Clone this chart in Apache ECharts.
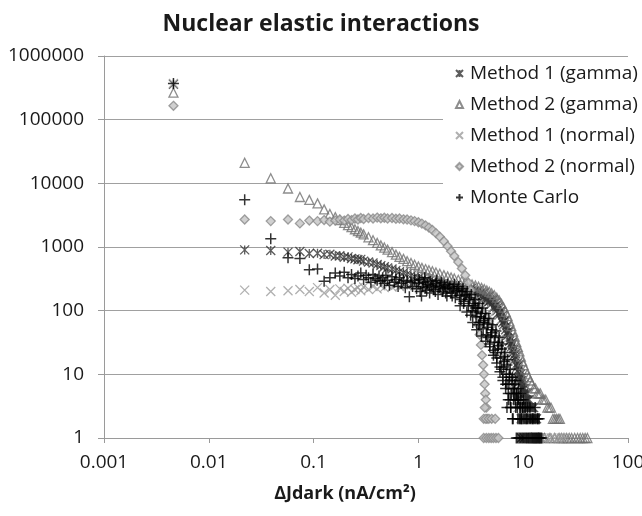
<!DOCTYPE html>
<html>
<head>
<meta charset="utf-8">
<script src="https://cdn.jsdelivr.net/npm/echarts@6/dist/echarts.min.js"></script>
<style>
html,body{margin:0;padding:0;background:#fff;}
#chart{width:642px;height:516px;}
</style>
</head>
<body>
<div id="chart"></div>
<script>
const chartTitle = 'Nuclear elastic interactions';
const xAxisTitle = 'ΔJdark (nA/cm²)';
const yAxisTitle = 'Frequency';
const xTickLabels = ['0.001','0.01','0.1','1','10','100'];
const yTickLabels = ['1','10','100','1000','10000','100000','1000000'];
const seriesNames = ['Method 1 (gamma)','Method 2 (gamma)','Method 1 (normal)','Method 2 (normal)','Monte Carlo'];

const method1Gamma = [
[0.0046,360000],
[0.022,900],[0.039,880],[0.057,830],[0.074,850],[0.091,790],[0.109,800],[0.126,760],[0.143,770],[0.161,720],[0.178,730],[0.196,690],[0.213,700],[0.230,660],[0.248,650],[0.265,630],[0.282,640],[0.300,600],[0.334,580],[0.369,560],[0.404,530],[0.438,510],[0.473,490],[0.508,470],[0.56,450],[0.61,430],[0.66,410],[0.72,395],[0.78,375],[0.85,355],[0.92,340],[1.0,325],[1.08,310],[1.17,300],[1.26,290],[1.36,282],[1.47,275],[1.6,265],[1.75,255],[1.9,248],[2.05,240],[2.2,232],[2.4,225],[2.6,218],[2.8,210],[3.0,205],[3.25,195],[3.5,188],[3.75,178],[4.0,170],[4.25,160],[4.5,150],[4.75,140],[5.0,128],[5.3,115],[5.6,100],[5.9,86],[6.2,72],[6.5,60],[6.8,50],[7.1,41],[7.4,33],[7.7,27],[8.0,22],[8.3,17],[8.6,14],[8.9,11],[9.2,9],[9.5,7],[9.8,6],[10.1,5],[10.5,4],[10.9,3],[11.3,3],[11.7,2],[12.1,2],[12.6,2],[13.1,1],[13.6,1],[14.1,1],[14.6,1],[9.6,1],[10.3,1],[11.0,1],[11.8,1],[12.4,1],
[3.1,215],[3.4,200],[3.6,170],[3.9,185],[4.1,150],[4.4,165],[4.6,135],[4.9,145],[5.15,110],[5.45,120],[5.75,90],[6.05,95],[6.35,65],[6.65,70],[6.95,45],[7.25,48],[7.55,30],[7.85,32],[8.15,20],[8.45,21],[8.75,13],[9.05,14],[9.35,8],[9.65,9],[10.0,6],[10.3,6],[10.7,4],[11.1,4],[11.5,3],[12.3,3],[12.9,2],[13.4,2],
[5.2,150],[5.5,135],[5.8,115],[6.1,100],[6.4,85],[6.7,70],[7.0,58],[7.3,46],[7.6,38],[7.9,30],[8.2,25],[8.5,19],[8.8,15],[9.1,12],[9.4,10],[9.7,8],[10.2,7],[10.6,5],[11.0,5],[11.4,4],[11.9,3],[12.6,3],[2.3,250],[2.7,235],[3.2,225],[3.7,205],[4.2,190],[4.7,170]
];

const method2Gamma = [
[0.0046,265000],
[0.022,21000],[0.039,12000],[0.057,8300],[0.074,6100],[0.091,5500],[0.109,4850],[0.126,3900],[0.143,3300],[0.161,2950],[0.178,2650],[0.196,2400],[0.213,2200],[0.230,2050],[0.248,1900],[0.265,1780],[0.282,1680],[0.300,1580],[0.334,1420],[0.369,1280],[0.404,1160],[0.438,1060],[0.473,980],[0.508,910],[0.56,830],[0.61,760],[0.66,700],[0.72,650],[0.78,600],[0.85,560],[0.92,525],[1.0,495],[1.08,470],[1.17,450],[1.26,432],[1.36,415],[1.47,398],[1.6,380],[1.75,362],[1.9,346],[2.05,332],[2.2,320],[2.4,305],[2.6,292],[2.8,280],[3.0,270],[3.25,258],[3.5,248],[3.75,238],[4.0,228],[4.25,218],[4.5,208],[4.75,198],[5.0,188],[5.3,175],[5.6,160],[5.9,145],[6.2,128],[6.5,112],[6.8,96],[7.1,82],[7.4,68],[7.7,57],[8.0,47],[8.3,39],[8.6,32],[8.9,27],[9.2,23],[9.5,19],[9.8,16],[10.1,14],[10.5,12],[10.9,10],[11.3,9],[11.7,8],[12.1,7],[12.6,6],[13.1,6],[13.6,5],[14.1,5],[14.6,5],[15.2,4],[15.8,4],[16.4,4],[17.0,3],[17.7,3],[18.4,3],[19.2,2],[20.0,2],[20.8,2],[21.6,2],[22.4,2],[23.2,1],[24.5,1],[26.0,1],[27.5,1],[29.0,1],[31.0,1],[33.0,1],[35.0,1],[37.0,1],[39.0,1],[41.0,1],[16.0,1],[18.0,1],[20.0,1],[22.0,1],[12.0,1],[14.0,1]
];

const method1Normal = [
[0.0046,370000],
[0.022,210],[0.039,200],[0.057,205],[0.074,215],[0.091,200],[0.109,230],[0.126,190],[0.143,215],[0.161,175],[0.178,220],[0.196,200],[0.213,225],[0.230,195],[0.248,215],[0.265,230],[0.282,205],[0.300,235],[0.334,215],[0.369,240],[0.404,220],[0.438,245],[0.473,230],[0.508,250],[0.56,235],[0.61,255],[0.66,240],[0.72,255],[0.78,245],[0.85,258],[0.92,248],[1.0,255],[1.08,250],[1.17,252],[1.26,246],[1.36,248],[1.47,240],[1.6,238],[1.75,230],[1.9,225],[2.05,218],[2.2,210],[2.4,200],[2.6,190],[2.8,180],[3.0,170],[3.25,155],[3.5,142],[3.75,128],[4.0,115],[4.25,102],[4.5,90],[4.75,78],[5.0,67],[5.3,56],[5.6,45],[5.9,36],[6.2,29],[6.5,23],[6.8,18],[7.1,14],[7.4,11],[7.7,8],[8.0,6],[8.3,5],[8.6,4],[8.9,3],[9.2,3],[9.5,2],[9.8,2],[10.2,2],[10.6,1],[11.0,1],[11.5,1],[12.0,1],[12.5,1],[13.0,1],[13.5,1],[14.0,1],[15.0,1],[16.0,1],[17.0,1],[18.5,1],[20.0,1],[21.5,1],[23.0,1],[25.0,1]
];

const method2Normal = [
[0.0046,165000],
[0.022,2700],[0.039,2550],[0.057,2700],[0.074,2350],[0.091,2600],[0.109,2550],[0.126,2650],[0.143,2500],[0.161,2600],[0.178,2700],[0.196,2600],[0.213,2750],[0.230,2650],[0.248,2800],[0.265,2700],[0.282,2850],[0.300,2750],[0.334,2850],[0.369,2800],[0.404,2900],[0.438,2820],[0.473,2880],[0.508,2800],[0.56,2850],[0.61,2780],[0.66,2800],[0.72,2720],[0.78,2700],[0.85,2620],[0.92,2550],[1.0,2450],[1.08,2330],[1.17,2180],[1.26,2020],[1.36,1850],[1.47,1650],[1.6,1450],[1.75,1230],[1.9,1030],[2.05,860],[2.2,720],[2.4,580],[2.6,460],[2.8,360],[3.0,275],[3.15,210],[3.3,160],[3.45,118],[3.6,85],[3.72,60],[3.84,42],[3.95,29],[4.05,20],[4.15,14],[4.22,10],[4.28,7],[4.34,5],[4.4,4],[4.46,3],[4.52,2],[4.3,3],[4.2,2],[4.4,2],[4.7,2],[5.0,2],[5.4,2],[4.2,1],[4.45,1],[4.7,1],[4.95,1],[5.2,1],[5.5,1],[5.8,1]
];

const monteCarlo = [
[0.0046,370000],
[0.022,5500],[0.039,1350],[0.057,680],[0.074,660],[0.091,440],[0.109,450],[0.126,290],[0.143,330],[0.161,390],[0.178,350],[0.196,400],[0.213,330],[0.230,370],[0.248,320],[0.265,350],[0.282,390],[0.300,310],[0.317,360],[0.334,330],[0.352,280],[0.369,370],[0.386,320],[0.404,300],[0.421,350],[0.438,290],[0.456,330],[0.473,270],[0.49,360],[0.508,300],[0.53,250],[0.56,340],[0.59,280],[0.61,310],[0.64,240],[0.66,330],[0.69,270],[0.72,300],[0.75,230],[0.78,290],[0.82,165],[0.85,280],[0.88,240],[0.92,300],[0.96,220],[1.0,270],[1.04,200],[1.07,170],[1.12,280],[1.17,230],[1.22,260],[1.28,190],[1.34,250],[1.4,215],[1.47,270],[1.54,180],[1.62,240],[1.7,200],[1.78,250],[1.87,170],[1.96,230],[2.05,190],[2.15,220],[2.25,160],[2.36,210],[2.48,175],[2.6,200],[2.72,140],[2.85,180],[3.0,120],[3.1,160],[3.25,100],[3.4,130],[3.55,80],[3.7,110],[3.85,65],[4.0,90],[4.15,52],[4.3,75],[4.45,42],[4.6,62],[4.8,30],[5.0,50],[5.2,24],[5.4,40],[5.6,18],[5.8,32],[6.0,13],[6.2,25],[6.4,9],[6.6,19],[6.8,7],[7.0,14],[7.2,5],[7.4,10],[7.6,3],[7.8,8],[8.0,2],[8.2,6],[8.4,4],[8.6,5],[8.8,3],[9.0,4],[9.2,2],[9.4,3],[9.6,2],[9.8,3],[10.0,2],[10.3,2],[10.6,2],[11.0,2],[11.4,2],[11.8,2],[12.2,2],[12.7,2],[13.2,2],[13.7,2],[14.2,2],[8.6,1],[8.9,1],[9.2,1],[9.5,1],[9.8,1],[10.1,1],[10.4,1],[10.7,1],[11.0,1],[11.3,1],[11.6,1],[11.9,1],[12.2,1],[12.5,1],[12.8,1],[13.1,1],[13.4,1],[13.7,1],[14.0,1],[14.3,1],[14.6,1],[15.0,1],[7.0,3],[7.5,4],[8.0,6],[8.5,8],[9.0,6],[9.5,5],[10.0,4],[10.5,3],[11.0,3],
[1.02,310],[1.1,240],[1.15,330],[1.2,210],[1.3,290],[1.38,240],[1.45,200],[1.5,300],[1.58,230],[1.66,280],[1.74,220],[1.82,190],[1.9,260],[2.0,240],[2.1,170],[2.2,260],[2.3,200],[2.42,240],[2.55,150],[2.66,220],[2.78,170],[2.92,200],[3.05,150],[3.2,180],[3.32,120],[3.48,150],[3.62,95],[3.78,130],[3.92,80],[4.08,110],[4.22,65],[4.38,90],[4.52,55],[4.7,75],[4.9,40],[5.1,60],[5.3,32],[5.5,48],[5.7,25],[5.9,38],[6.1,18],[6.3,30],[6.5,13],[6.7,22],[6.9,10],[7.1,17],[7.3,7],[7.5,12],[7.7,5],[7.9,9],[8.1,4],[8.3,7],[8.5,3],[8.7,5],[8.9,2],[9.1,4],[9.3,3],[9.5,4],[9.7,2],[9.9,3],
[2.5,120],[2.9,95],[3.3,65],[3.6,50],[4.0,40],[4.4,33],[4.8,27],[5.2,20],[5.6,15],[6.0,11],[6.4,8],[6.8,6],[7.2,4],[7.6,3],[7.9,2],[3.15,85],[3.75,60],[4.6,38],[5.4,22],[6.2,12],[7.0,7],[2.7,130],[3.5,110],[4.2,70],[5.0,45],[5.8,28],[6.6,16],[7.4,9],[8.2,5],[8.8,4],[9.4,2],[10.2,3],[10.8,2],[11.6,3],[12.4,2],[13.0,3],[13.8,2]
];

const FONT = "'Open Sans', 'Noto Sans', sans-serif";
const TXT = '#1a1a1a';
const SYM_ASTERISK = 'path://M0,0L10,10M0,10L10,0M5,0L5,10';
const SYM_X = 'path://M0,0L10,10M0,10L10,0';
const SYM_PLUS = 'path://M5,0L5,10M0,5L10,5';

function logLabel(labels, offset) {
  return function (v) {
    const i = Math.round(Math.log10(v)) + offset;
    return labels[i] !== undefined ? labels[i] : '';
  };
}

const chart = echarts.init(document.getElementById('chart'), null, {renderer: 'canvas'});
chart.setOption({
  backgroundColor: '#fff',
  animation: false,
  title: {
    text: chartTitle,
    left: 'center',
    top: 8,
    textStyle: {fontFamily: FONT, fontWeight: 'bold', fontSize: 23, color: TXT}
  },
  grid: {left: 104, right: 14, top: 56, bottom: 78, containLabel: false, outerBoundsMode: 'none'},
  legend: {
    orient: 'vertical',
    left: 443,
    top: 58,
    padding: [5, 30, 8, 12],
    backgroundColor: '#fff',
    itemWidth: 7,
    itemHeight: 7,
    itemGap: 10,
    textStyle: {fontFamily: FONT, fontSize: 19, color: TXT, lineHeight: 21, padding: [0, 0, 0, 2]},
    data: seriesNames
  },
  xAxis: {
    type: 'log',
    logBase: 10,
    min: 0.001,
    max: 100,
    name: xAxisTitle,
    nameLocation: 'middle',
    nameGap: 47,
    nameTextStyle: {fontFamily: FONT, fontWeight: 'bold', fontSize: 18, color: TXT, padding: [0, 42, 0, 0]},
    axisLine: {show: true, lineStyle: {color: '#9a9a9a', width: 1}},
    axisTick: {show: true, length: 5, lineStyle: {color: '#9a9a9a'}},
    minorTick: {show: false},
    splitLine: {show: false},
    axisLabel: {fontFamily: FONT, fontSize: 19, color: TXT, margin: 15, formatter: logLabel(xTickLabels, 3)}
  },
  yAxis: {
    type: 'log',
    logBase: 10,
    min: 1,
    max: 1000000,
    name: yAxisTitle,
    nameLocation: 'middle',
    nameRotate: 90,
    nameGap: 70,
    nameTextStyle: {fontFamily: FONT, fontWeight: 'bold', fontSize: 22, color: TXT, padding: [0, 100, 0, 0]},
    axisLine: {show: true, lineStyle: {color: '#9a9a9a', width: 1}},
    axisTick: {show: true, length: 6, lineStyle: {color: '#9a9a9a'}},
    splitLine: {show: true, lineStyle: {color: '#a0a0a0', width: 1}},
    axisLabel: {fontFamily: FONT, fontSize: 19, color: TXT, margin: 20, formatter: logLabel(yTickLabels, 0)}
  },
  series: [
    {name: seriesNames[0], type: 'scatter', data: method1Gamma, symbol: SYM_ASTERISK, symbolSize: 9,
     itemStyle: {color: 'rgba(0,0,0,0)', borderColor: '#333333', borderWidth: 1.3}},
    {name: seriesNames[1], type: 'scatter', data: method2Gamma, symbol: 'triangle', symbolSize: 9,
     itemStyle: {color: 'rgba(255,255,255,0)', borderColor: '#707070', borderWidth: 1.3}},
    {name: seriesNames[2], type: 'scatter', data: method1Normal, symbol: SYM_X, symbolSize: 9,
     itemStyle: {color: 'rgba(0,0,0,0)', borderColor: '#9c9c9c', borderWidth: 1.3}},
    {name: seriesNames[3], type: 'scatter', data: method2Normal, symbol: 'diamond', symbolSize: 9,
     itemStyle: {color: '#c4c4c4', borderColor: '#8a8a8a', borderWidth: 1.3}},
    {name: seriesNames[4], type: 'scatter', data: monteCarlo, symbol: SYM_PLUS, symbolSize: 11,
     itemStyle: {color: 'rgba(0,0,0,0)', borderColor: '#000', borderWidth: 1.5}}
  ]
});
</script>
</body>
</html>
